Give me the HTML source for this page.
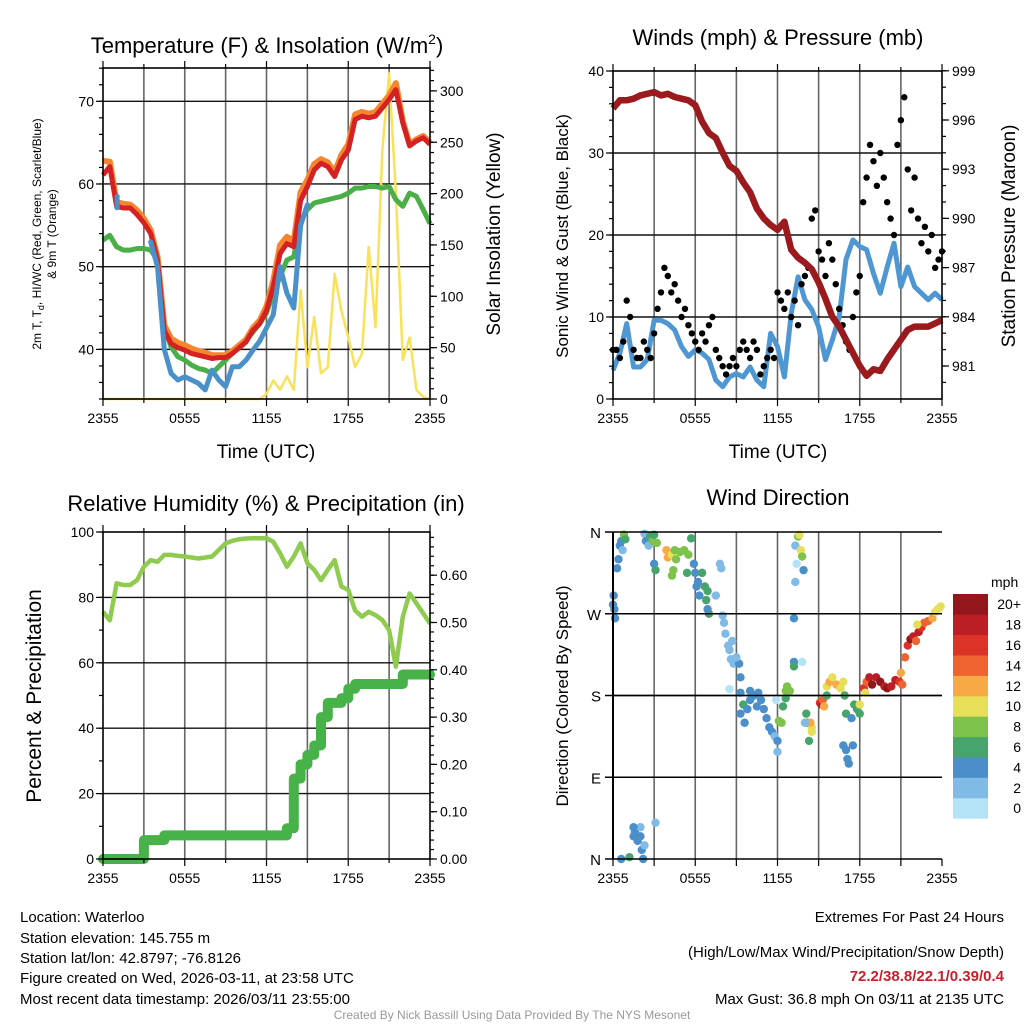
<!DOCTYPE html>
<html><head><meta charset="utf-8"><style>
html,body{margin:0;padding:0;background:#fff;}
svg text{font-family:"Liberation Sans",Arial,sans-serif;}
</style></head><body>
<svg id="s" xmlns="http://www.w3.org/2000/svg" width="1024" height="1024" viewBox="0 0 1024 1024">
<rect width="1024" height="1024" fill="#fff"/>
<g id="g1"></g>
<g id="g2"></g>
<g id="g3"></g>
<g id="g4"></g>
<text x="267" y="53" font-size="22" text-anchor="middle">Temperature (F) &amp; Insolation (W/m<tspan font-size="14" dy="-9">2</tspan><tspan dy="9">)</tspan></text>
<text x="778" y="45" font-size="22" text-anchor="middle">Winds (mph) &amp; Pressure (mb)</text>
<text x="266" y="511" font-size="22" text-anchor="middle">Relative Humidity (%) &amp; Precipitation (in)</text>
<text x="778" y="505" font-size="22" text-anchor="middle">Wind Direction</text>
<text x="266" y="458" font-size="19" text-anchor="middle">Time (UTC)</text>
<text x="778" y="458" font-size="19" text-anchor="middle">Time (UTC)</text>
<text transform="translate(41,234) rotate(-90)" font-size="12" text-anchor="middle">2m T, T<tspan font-size="9" dy="3">d</tspan><tspan dy="-3">, HI/WC (Red, Green, Scarlet/Blue)</tspan></text>
<text transform="translate(56,234) rotate(-90)" font-size="12" text-anchor="middle">&amp; 9m T (Orange)</text>
<text transform="translate(500,234) rotate(-90)" font-size="19" text-anchor="middle">Solar Insolation (Yellow)</text>
<text transform="translate(568,236) rotate(-90)" font-size="17" text-anchor="middle">Sonic Wind &amp; Gust (Blue, Black)</text>
<text transform="translate(1015,236) rotate(-90)" font-size="19" text-anchor="middle">Station Pressure (Maroon)</text>
<text transform="translate(41,696) rotate(-90)" font-size="21" text-anchor="middle">Percent &amp; Precipitation</text>
<text transform="translate(568,696) rotate(-90)" font-size="17" text-anchor="middle">Direction (Colored By Speed)</text>
<g font-size="15">
<text x="20" y="922">Location: Waterloo</text>
<text x="20" y="943">Station elevation: 145.755 m</text>
<text x="20" y="963">Station lat/lon: 42.8797; -76.8126</text>
<text x="20" y="983">Figure created on Wed, 2026-03-11, at 23:58 UTC</text>
<text x="20" y="1004">Most recent data timestamp: 2026/03/11 23:55:00</text>
</g>
<g font-size="15" text-anchor="end">
<text x="1004" y="922">Extremes For Past 24 Hours</text>
<text x="1004" y="957">(High/Low/Max Wind/Precipitation/Snow Depth)</text>
<text x="1004" y="981" fill="#c8202a" font-weight="bold">72.2/38.8/22.1/0.39/0.4</text>
<text x="1004" y="1004">Max Gust: 36.8 mph On 03/11 at 2135 UTC</text>
</g>
<text x="512" y="1019" font-size="12" fill="#999" text-anchor="middle">Created By Nick Bassill Using Data Provided By The NYS Mesonet</text>
</svg>
<script>
// ---- data (30-min samples, 0..24 h) ----
const tempT = [61.1,62.1,57.3,57.1,57.1,56.3,55.3,54.0,50.8,42.3,40.7,40.2,39.9,39.5,39.3,39.1,38.9,39.0,39.0,39.5,40.2,40.9,42.3,43.1,44.7,47.6,51.6,52.8,52.4,58.0,59.7,61.7,62.5,62.1,60.9,62.9,64.1,67.8,68.2,68.0,68.2,69.2,70.2,71.4,67.4,64.6,65.2,65.6,64.8];
const temp9m = [62.8,62.7,57.8,57.6,57.5,56.8,55.8,54.4,51.2,42.9,41.3,40.8,40.5,40.1,39.8,39.6,39.3,39.3,39.3,39.8,40.5,41.2,42.6,43.5,45.2,48.3,52.6,53.6,53.1,59.0,60.5,62.4,63.0,62.6,61.4,63.5,64.8,68.4,68.7,68.5,68.7,69.7,70.7,72.2,67.6,64.8,65.4,65.8,65.0];
const dewTd = [53.2,53.8,52.4,52.0,52.0,52.2,52.2,52.0,50.8,42.7,40.3,39.1,38.7,38.1,37.7,37.5,37.1,37.9,38.7,39.5,40.3,41.1,42.1,43.1,44.4,46.8,48.8,50.8,51.2,55.6,56.9,57.7,57.9,58.1,58.3,58.5,58.9,59.5,59.5,59.7,59.7,59.5,59.7,58.1,57.3,58.9,58.5,56.9,55.2];
const windChill = [null,null,57.8,null,null,null,null,53.0,50.0,40.0,37.1,36.3,36.7,36.3,35.9,35.1,37.5,36.3,35.5,37.9,37.9,38.7,39.9,41.0,42.6,44.2,50.0,46.8,45.0,55.0,57.5,null,null,null,null,null,null,null,null,null,null,null,null,null,null,null,null,null,null];
const solar = [0,0,0,0,0,0,0,0,0,0,0,0,0,0,0,0,0,0,0,0,0,0,0,0,5,18,9,22,9,106,31,80,25,31,122,86,60,31,44,148,70,242,317,200,38,60,9,2,0];
const pressure = [996.7,997.2,997.2,997.3,997.5,997.6,997.7,997.5,997.6,997.4,997.3,997.2,996.9,995.9,995.2,994.9,994.0,993.2,992.9,992.2,991.6,990.6,990.0,989.6,989.3,989.8,988.1,987.6,987.3,986.9,986.1,985.1,984.0,983.4,982.6,981.8,981.0,980.4,980.8,980.7,981.4,982.0,982.6,983.2,983.4,983.4,983.4,983.6,983.8];
const windSpd = [3.5,5.6,9.2,3.9,3.9,4.8,9.6,9.6,9.2,8.4,6.4,5.2,6.0,5.6,4.8,2.3,1.5,2.7,3.1,2.7,3.9,2.3,1.5,8.0,6.4,2.7,10.4,14.9,12.1,10.9,8.8,4.8,7.2,10.0,17.0,19.4,18.6,18.2,15.3,12.9,16.1,19.0,13.7,16.1,13.7,12.9,12.1,12.9,12.1];
// gusts every 15 min
const gust = [6,6,5,7, 12,10,6,5, 5,7,6,5, 8,11,13,16, 15,13,14,12, 10,11,9,8, 7,6,8,7, 9,10,6,5, 4,3,4,5, 4,6,7,6, 5,7,6,3, 4,5,6,5, 13,12,11,13, 10,12,9,14, 15,16,22,23, 18,17,15,19, 17,14,11,9, 7,6,10,13, 15,24,27,31, 29,26,30,27, 24,22,20,31, 34,36.8,28,23, 27,22,19,21, 18,20,16,17, 18];
const rh = [75.6,73,84.3,83.8,83.8,85.3,89.4,91.4,90.9,93,93,92.7,92.5,92.2,91.9,92.2,92.5,94.5,96.5,97.3,97.8,98,98.1,98.1,98.1,97,93.5,89.4,92.5,96.5,90.4,88.4,85.3,88.4,91.4,83.3,82.3,76,74.1,75.6,74.6,73.1,70,58.8,74.1,81.2,78.2,75.1,72];
const precip = [0,0,0,0,0,0,0.04,0.04,0.04,0.05,0.05,0.05,0.05,0.05,0.05,0.05,0.05,0.05,0.05,0.05,0.05,0.05,0.05,0.05,0.05,0.05,0.05,0.065,0.17,0.20,0.22,0.24,0.30,0.33,0.33,0.34,0.36,0.37,0.37,0.37,0.37,0.37,0.37,0.37,0.39,0.39,0.39,0.39,0.39];
const wdTime = [0.0,0.05,0.1,0.15,0.3,0.4,0.5,0.6,0.8,0.9,0.7, 0.6,1.2,1.5,1.6,1.8,2.0,2.1,2.2,2.3,2.0,1.5,3.1, 2.3,2.4,2.6,2.7,2.9,3.0,3.2,3.0,3.1, 3.9,4.0,4.3,4.5,4.6,4.9,5.2,5.5,5.4,5.7,4.4,4.3, 5.9,6.0,6.2,6.3,6.1,6.5,6.7,6.9,6.8,7.0,6.9,7.5,7.8,7.9, 8.0,8.1,8.2,8.4,8.5,8.6,8.8,9.2,9.3,8.5,9.0,8.7, 9.3,9.3,9.5,9.6,9.8,10.0,10.3,10.6,10.8,11.0,11.2,11.4,11.6,11.8,12.0,12.0,11.9,12.1,12.3,10.0,10.5, 12.4,12.6,12.7,12.9,12.6, 13.3,13.5,13.6,13.7,13.4,13.3,13.9,13.8,13.2,13.2,13.2,13.8, 14.1,14.2,14.3,14.5,14.4,14.5,14.0, 15.1,15.2,15.3,15.4,15.6, 15.6,15.8,16.0,16.3,16.6,16.8,16.9,17.0, 16.8,17.0,17.1,17.2,17.5,17.4, 17.6,17.8,18.0,18.0, 18.3,18.5,18.7,18.9,19.2,19.5,19.8,20.0,20.3,20.6,20.9,21.1,18.4,21.0, 21.3,21.5,21.7,21.9,22.1,22.3,22.5,22.7,23.0,23.3,23.5,23.7,23.9,22.2];
const wdDir = [280,290,275,265,320,330,345,350,357,352,340, 0,2,25,30,20,25,10,0,15,35,35,40, 358,350,345,355,350,357,348,325,318, 340,332,335,340,330,338,340,335,315,353,318,312, 325,315,305,290,300,315,300,295,285,270,275,290,325,320, 268,260,248,235,230,220,215,215,200,187,222,240, 183,160,170,150,165,175,180,183,175,165,155,145,140,135,130,118,175,152,150,185,168, 168,185,190,185,177, 345,355,357,340,325,305,318,333,265,217,212,217, 160,150,130,145,150,140,150, 172,170,175,168,180, 190,195,200,192,188,195,180,160, 125,120,110,105,125,155, 170,165,170,160, 188,195,200,192,200,195,190,188,190,197,195,192,183,205, 222,235,242,245,240,250,255,260,262,265,272,275,278,258];
const wdSpd = [4,4,4,4,4,4,4,4,8,7,2, 4,7,4,4,4,4,4,4,2,2,4,2, 2,4,2,6,8,6,8,4,6, 12,12,10,8,8,8,8,8,6,6,8,8, 4,4,4,4,4,6,6,6,6,6,4,2,2,2, 2,2,2,2,2,2,2,4,4,1,2,2, 4,4,6,4,4,4,4,4,4,4,4,4,4,2,4,2,1,8,8,4,4, 6,8,8,8,6, 2,8,10,10,1,2,4,8,4,4,6,1, 6,6,6,10,12,10,2, 16,18,14,12,7, 10,12,10,12,10,10,7,6, 4,4,4,4,4,4, 7,7,10,7, 16,15,18,20,18,20,19,20,18,18,16,15,10,12, 14,16,20,18,14,19,16,14,14,12,11,10,10,10];
const spdColors = ["#b4e3f7","#80bae6","#4a8fc9","#47a56c","#7dc24b","#e6df57","#f6a944","#ef6330","#dc3329","#bd1e25","#93161b"];
const spdLabels = ["0","2","4","6","8","10","12","14","16","18","20+"];
const xTickLabels = ["2355","0555","1155","1755","2355"];

const NS="http://www.w3.org/2000/svg";
function mk(parent,tag,attrs){const e=document.createElementNS(NS,tag);for(const k in attrs)e.setAttribute(k,attrs[k]);parent.appendChild(e);return e;}
function txt(parent,x,y,s,size,anchor){const t=mk(parent,'text',{x:x,y:y,'font-size':size,'text-anchor':anchor});t.textContent=s;return t;}

function frame(g,x0,x1,y0,y1,hGrid){
  // vertical grid every 3h
  for(let i=1;i<8;i++){const x=x0+(x1-x0)*i/8;
    const l=mk(g,'line',{x1:x,x2:x,y1:y0,y2:y1,stroke:'#666','stroke-width':1.6});
    
    }
  hGrid.forEach(y=>{const l=mk(g,'line',{x1:x0,x2:x1,y1:y,y2:y,stroke:'#111','stroke-width':1.4});
    
    });
}
function border(g,x0,x1,y0,y1){
  const r=mk(g,'rect',{x:x0,y:y0,width:x1-x0,height:y1-y0,fill:'none',stroke:'#000','stroke-width':1.6});
  
  
  for(let i=0;i<=8;i++){const x=x0+(x1-x0)*i/8;const len=(i%2===0)?7:4;
    mk(g,'line',{x1:x,x2:x,y1:y1,y2:y1+len,stroke:'#000','stroke-width':1.2});
    mk(g,'line',{x1:x,x2:x,y1:y0,y2:y0-len,stroke:'#000','stroke-width':1.2});}
  xTickLabels.forEach((s,i)=>{const t=txt(g,x0+(x1-x0)*i/4,y1+24,s,14,'middle');
    
    });
}
function yTicks(g,x,vals,fy,labels,side,len){
  vals.forEach((v,i)=>{const y=fy(v);
    mk(g,'line',{x1:x,x2:x+(side==='left'?-len:len),y1:y,y2:y,stroke:'#000','stroke-width':1.2});
    if(labels&&labels[i]!=null){const t=txt(g,side==='left'?x-9:x+10,y+5,labels[i],14,side==='left'?'end':'start');
      
      }
  });
}
function pathFrom(arr,fx,fy,step){let d='',pen=false;
  arr.forEach((v,i)=>{if(v==null){pen=false;return;}const x=fx(i*step),y=fy(v);d+=(pen?'L':'M')+x.toFixed(1)+' '+y.toFixed(1)+' ';pen=true;});return d;}

// ---------- Panel 1 ----------
(function(){
  const g=document.getElementById('g1');const x0=103,x1=430,y0=68,y1=399;
  const fx=h=>x0+h/24*(x1-x0), fy=v=>399-(v-34)*8.27, fs=v=>399-v*1.027;
  frame(g,x0,x1,y0,y1,[40,50,60,70].map(fy));
  let p;
  p=mk(g,'path',{d:pathFrom(solar,fx,fs,0.5),fill:'none',stroke:'#f9e25a','stroke-width':2.5,'stroke-linejoin':'round'});
  
  p=mk(g,'path',{d:pathFrom(dewTd,fx,fy,0.5),fill:'none',stroke:'#4aaf46','stroke-width':5,'stroke-linejoin':'round'});
  
  p=mk(g,'path',{d:pathFrom(temp9m,fx,fy,0.5),fill:'none',stroke:'#f5862e','stroke-width':6,'stroke-linejoin':'round'});
  
  p=mk(g,'path',{d:pathFrom(tempT,fx,fy,0.5),fill:'none',stroke:'#d42124','stroke-width':5,'stroke-linejoin':'round'});
  
  p=mk(g,'path',{d:pathFrom(windChill,fx,fy,0.5),fill:'none',stroke:'#4a90c9','stroke-width':5,'stroke-linejoin':'round','stroke-linecap':'round'});
  
  windChill.forEach((v,i)=>{if(v==null)return;if(windChill[i-1]==null&&windChill[i+1]==null){
    const c=mk(g,'rect',{x:fx(i*0.5)-2,y:fy(v)-8,width:5,height:16,rx:2,fill:'#4a90c9'});
    }});
  border(g,x0,x1,y0,y1);
  const lt=[];for(let v=34;v<=74;v+=2)lt.push(v);
  yTicks(g,x0,[40,50,60,70],fy,['40','50','60','70'],'left',7);
  yTicks(g,x0,lt,fy,null,'left',4);
  const rt=[];for(let v=0;v<=320;v+=10)rt.push(v);
  yTicks(g,x1,rt,fs,null,'right',4);
  yTicks(g,x1,[0,50,100,150,200,250,300],fs,['0','50','100','150','200','250','300'],'right',7);
})();

// ---------- Panel 2 ----------
(function(){
  const g=document.getElementById('g2');const x0=613,x1=942,y0=71,y1=399;
  const fx=h=>x0+h/24*(x1-x0), fy=v=>399-v*8.2, fp=p=>366-(p-981)*16.4;
  frame(g,x0,x1,y0,y1,[10,20,30].map(fy));
  let p=mk(g,'path',{d:pathFrom(windSpd,fx,fy,0.5),fill:'none',stroke:'#4f97d3','stroke-width':5,'stroke-linejoin':'round'});
  
  gust.forEach((v,i)=>{const c=mk(g,'circle',{cx:fx(i*0.25),cy:fy(v),r:3.2,fill:'#000'});
    });
  p=mk(g,'path',{d:pathFrom(pressure,fx,fp,0.5),fill:'none',stroke:'#9b1a1d','stroke-width':6.5,'stroke-linejoin':'round'});
  
  border(g,x0,x1,y0,y1);
  const lt=[];for(let v=0;v<=40;v+=2)lt.push(v);
  yTicks(g,x0,lt,fy,null,'left',4);
  yTicks(g,x0,[0,10,20,30,40],fy,['0','10','20','30','40'],'left',7);
  const rt=[];for(let v=980;v<=999;v+=1)rt.push(v);
  yTicks(g,x1,rt,fp,null,'right',4);
  yTicks(g,x1,[981,984,987,990,993,996,999],fp,['981','984','987','990','993','996','999'],'right',7);
})();

// ---------- Panel 3 ----------
(function(){
  const g=document.getElementById('g3');const x0=103,x1=430,y0=532,y1=859;
  const fx=h=>x0+h/24*(x1-x0), fy=v=>859-v*3.27, fr=v=>859-v*473;
  frame(g,x0,x1,y0,y1,[20,40,60,80].map(fy));
  let d='';precip.forEach((v,i)=>{const x=fx(i*0.5),y=fr(v);if(i===0)d+='M'+x+' '+y;else d+=' H'+x.toFixed(1)+' V'+y.toFixed(1);});
  let p=mk(g,'path',{d:d,fill:'none',stroke:'#46b248','stroke-width':10,'stroke-linejoin':'round','stroke-linecap':'round'});
  
  p=mk(g,'path',{d:pathFrom(rh,fx,fy,0.5),fill:'none',stroke:'#8fcb4e','stroke-width':4.5,'stroke-linejoin':'round'});
  
  border(g,x0,x1,y0,y1);
  const lt=[];for(let v=0;v<=100;v+=10)lt.push(v);
  yTicks(g,x0,lt,fy,null,'left',4);
  yTicks(g,x0,[0,20,40,60,80,100],fy,['0','20','40','60','80','100'],'left',7);
  const rt=[];for(let v=0;v<=0.69;v+=0.02)rt.push(v);
  yTicks(g,x1,rt,fr,null,'right',4);
  yTicks(g,x1,[0,0.1,0.2,0.3,0.4,0.5,0.6],fr,['0.00','0.10','0.20','0.30','0.40','0.50','0.60'],'right',7);
})();

// ---------- Panel 4 ----------
(function(){
  const g=document.getElementById('g4');const x0=613,x1=942,y0=532,y1=859;
  const fx=h=>x0+h/24*(x1-x0), fy=d=>859-d/360*327;
  frame(g,x0,x1,y0,y1,[90,180,270].map(fy));
  wdTime.forEach((t,i)=>{const bin=Math.min(10,Math.floor(wdSpd[i]/2));
    const c=mk(g,'circle',{cx:fx(t),cy:fy(wdDir[i]),r:4.2,fill:spdColors[bin]});
    
    });
  // border without right/top ticks style
  mk(g,'rect',{x:x0,y:y0,width:x1-x0,height:y1-y0,fill:'none',stroke:'#000','stroke-width':1.2,'stroke-opacity':0});
  mk(g,'line',{x1:x0,x2:x0,y1:y0,y2:y1,stroke:'#000','stroke-width':2});
  [0,90,180,270,360].forEach(v=>mk(g,'line',{x1:x0-8,x2:x1,y1:fy(v),y2:fy(v),stroke:'#000','stroke-width':1.4}));
  for(let i=0;i<=8;i++){const x=x0+(x1-x0)*i/8;mk(g,'line',{x1:x,x2:x,y1:y1,y2:y1+7,stroke:'#000','stroke-width':1.2});}
  xTickLabels.forEach((s,i)=>{const t=txt(g,x0+(x1-x0)*i/4,y1+24,s,14,'middle');
    
    });
  ['N','E','S','W','N'].forEach((s,i)=>{const t=txt(g,x0-12,fy(i*90)+6,s,15,'end');
    
    });
  // colorbar
  const cbTop=594,bh=20.4;
  const cb=mk(g,'g',{});
  
  
  spdColors.forEach((c,i)=>{const y=cbTop+(10-i)*bh;
    const r=mk(cb,'rect',{x:953,y:y,width:35,height:bh+0.3,fill:c});
    
    
    const t=txt(cb,1021,y+bh/2+5,spdLabels[i],14,'end');
    
    });
  const m=txt(cb,991,587,'mph',14,'start');
  
  
})();
</script>
</body></html>
